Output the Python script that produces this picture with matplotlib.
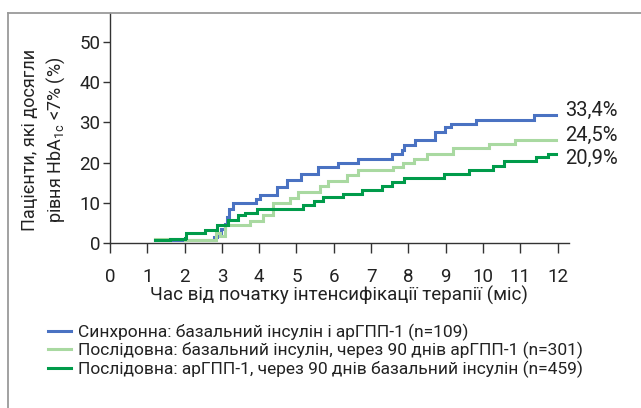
import matplotlib
matplotlib.use("Agg")
import matplotlib.pyplot as plt
from matplotlib.lines import Line2D

plt.rcParams['font.family'] = ['Roboto', 'DejaVu Sans']
plt.rcParams['mathtext.fontset'] = 'custom'
plt.rcParams['mathtext.rm'] = 'Roboto'
plt.rcParams['mathtext.it'] = 'Roboto:italic'

# --- data --- #
blue_x = [1.2, 2.78, 2.88, 2.98, 3.08, 3.14, 3.2, 3.3, 3.91, 4.02, 4.47, 4.75, 5.12, 5.57,
          6.1, 6.64, 7.57, 7.84, 7.89, 8.18, 8.71, 8.98, 9.13, 9.82, 11.38, 11.97]
blue_y = [0.8, 1.5, 2.5, 3.5, 4.8, 6.5, 8.5, 10.0, 10.9, 11.9, 14.0, 15.8, 17.3, 18.8,
          20.0, 20.8, 22.1, 23.1, 24.4, 25.6, 27.5, 28.8, 29.7, 30.5, 31.8, 31.8]

lgreen_x = [1.2, 2.0, 2.72, 2.85, 2.95, 3.08, 3.75, 4.11, 4.38, 4.83, 5.05, 5.63, 5.85,
            6.35, 6.64, 7.6, 7.86, 8.16, 8.49, 9.2, 10.15, 10.87, 11.97]
lgreen_y = [1.0, 0.8, 0.75, 2.5, 1.8, 4.5, 5.5, 7.0, 10.0, 11.3, 12.8, 14.2, 15.5,
            16.9, 18.3, 18.8, 19.8, 21.0, 22.1, 23.6, 24.6, 25.7, 25.7]

green_x = [1.2, 1.6, 2.0, 2.05, 2.55, 2.86, 3.17, 3.44, 3.62, 3.93, 5.18, 5.48, 5.72,
           6.25, 6.76, 7.28, 7.55, 7.89, 8.95, 9.63, 10.26, 10.56, 11.42, 11.75, 11.97]
green_y = [0.8, 1.0, 1.3, 2.6, 3.2, 4.5, 5.9, 6.9, 7.5, 8.5, 9.6, 10.5, 11.4,
           12.2, 13.2, 14.2, 15.2, 16.2, 17.1, 18.1, 19.2, 20.4, 21.3, 22.1, 22.1]

end_labels = ['33,4%', '24,5%', '20,9%']
end_label_y = [33.0, 26.8, 21.0]

series_names = ['Синхронна: базальний інсулін і арГПП-1 (n=109)',
                'Послідовна: базальний інсулін, через 90 днів арГПП-1 (n=301)',
                'Послідовна: арГПП-1, через 90 днів базальний інсулін (n=459)']
colors = ['#4a72c2', '#a9d9a1', '#009b4a']

x_ticks = list(range(0, 13))
y_ticks = [0, 10, 20, 30, 40, 50]

# --- figure --- #
fig = plt.figure(figsize=(6.41, 4.08), dpi=100)
ax = fig.add_axes([0.1716, 0.4037, 0.7157, 0.5643])

# frame lines (top and left)
fig.add_artist(Line2D([8 / 641, 1.0], [1 - 13 / 408, 1 - 13 / 408], color='#9a9a9a', lw=1.3))
fig.add_artist(Line2D([8 / 641, 8 / 641], [0, 1 - 13 / 408], color='#9a9a9a', lw=1.3))

for xs, ys, c, name in zip([blue_x, lgreen_x, green_x], [blue_y, lgreen_y, green_y], colors, series_names):
    ax.step(xs, ys, where='post', color=c, lw=2.2, label=name, solid_joinstyle='miter')

ax.set_xlim(0, 12.3)
ax.set_ylim(0, 57.1)
ax.set_xticks(x_ticks)
ax.set_yticks(y_ticks)

for s in ['top', 'right']:
    ax.spines[s].set_visible(False)
for s in ['left', 'bottom']:
    ax.spines[s].set_color('#333333')
    ax.spines[s].set_linewidth(1.0)

ax.tick_params(axis='x', direction='out', length=7, width=1.0, color='#333333',
               pad=11, labelsize=13.5, labelcolor='#222222')
ax.tick_params(axis='y', direction='out', length=5, width=1.0, color='#333333',
               pad=2, labelsize=13.5, labelcolor='#222222')

ax.set_xlabel('Час від початку інтенсифікації терапії (міс)', fontsize=13.5, color='#222222', labelpad=0)
ax.set_ylabel('Пацієнти, які досягли\nрівня HbA$_{\\mathrm{1c}}$ <7% (%)', fontsize=13,
              color='#222222', linespacing=1.3)
ax.yaxis.set_label_coords(-0.094, 0.45)

for txt, yv in zip(end_labels, end_label_y):
    ax.text(12.2, yv, txt, fontsize=14.5, color='#222222', va='center', ha='left', clip_on=False)

leg = fig.legend(loc='upper left', bbox_to_anchor=(48 / 641, 1 - 324 / 408), frameon=False,
                 fontsize=12.5, handlelength=1.3, handletextpad=0.4, labelspacing=0.05,
                 borderpad=0, borderaxespad=0)
for t in leg.get_texts():
    t.set_color('#222222')

fig.savefig('out.png', dpi=100)
